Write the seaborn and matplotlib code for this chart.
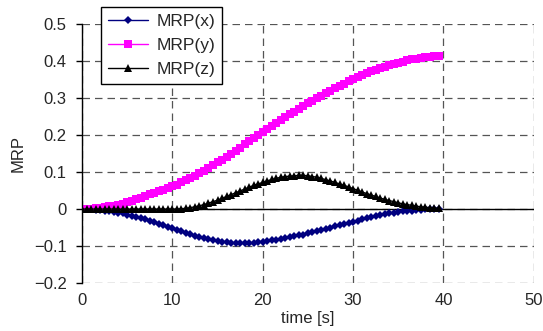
import numpy as np
import pandas as pd
import matplotlib
matplotlib.use("Agg")
import matplotlib.pyplot as plt
import seaborn as sns

# ---- data (0.5 s steps) ----
time_s = np.arange(0, 40, 0.5)

mrp_x = [0.000, 0.000, -0.001, -0.002, -0.003, -0.004, -0.006, -0.008, -0.010, -0.012,
         -0.015, -0.018, -0.021, -0.024, -0.028, -0.032, -0.036, -0.040, -0.044, -0.048,
         -0.052, -0.056, -0.060, -0.064, -0.068, -0.072, -0.075, -0.078, -0.081, -0.084,
         -0.086, -0.088, -0.090, -0.091, -0.092, -0.093, -0.093, -0.093, -0.092, -0.090,
         -0.088, -0.087, -0.085, -0.083, -0.081, -0.079, -0.076, -0.074, -0.071, -0.069,
         -0.066, -0.063, -0.060, -0.057, -0.054, -0.051, -0.047, -0.044, -0.041, -0.037,
         -0.034, -0.031, -0.028, -0.025, -0.022, -0.019, -0.017, -0.014, -0.012, -0.010,
         -0.008, -0.006, -0.005, -0.004, -0.003, -0.002, -0.001, -0.001, 0.000, 0.000]

mrp_y = [0.000, 0.000, 0.001, 0.002, 0.003, 0.005, 0.007, 0.009, 0.012, 0.015,
         0.018, 0.022, 0.027, 0.031, 0.035, 0.040, 0.044, 0.048, 0.052, 0.056,
         0.061, 0.066, 0.072, 0.078, 0.084, 0.090, 0.097, 0.104, 0.111, 0.118,
         0.126, 0.134, 0.142, 0.150, 0.158, 0.166, 0.175, 0.183, 0.192, 0.200,
         0.208, 0.216, 0.224, 0.232, 0.240, 0.248, 0.256, 0.263, 0.271, 0.278,
         0.286, 0.293, 0.300, 0.307, 0.314, 0.320, 0.327, 0.333, 0.339, 0.345,
         0.351, 0.356, 0.362, 0.367, 0.372, 0.376, 0.381, 0.385, 0.389, 0.392,
         0.396, 0.399, 0.402, 0.405, 0.407, 0.409, 0.411, 0.412, 0.413, 0.414]

mrp_z = [0.000, 0.000, 0.000, 0.000, 0.000, 0.000, 0.000, 0.000, 0.000, 0.000,
         0.000, 0.000, 0.000, 0.000, 0.000, 0.000, 0.000, 0.000, 0.000, 0.000,
         0.000, 0.000, 0.001, 0.002, 0.004, 0.006, 0.009, 0.012, 0.016, 0.020,
         0.024, 0.029, 0.034, 0.039, 0.044, 0.049, 0.054, 0.059, 0.064, 0.068,
         0.072, 0.076, 0.080, 0.083, 0.086, 0.088, 0.089, 0.090, 0.091, 0.091,
         0.090, 0.088, 0.086, 0.083, 0.079, 0.076, 0.072, 0.068, 0.064, 0.060,
         0.055, 0.051, 0.046, 0.042, 0.038, 0.034, 0.030, 0.026, 0.023, 0.020,
         0.017, 0.014, 0.012, 0.010, 0.008, 0.006, 0.005, 0.004, 0.003, 0.002]

series_names = ["MRP(x)", "MRP(y)", "MRP(z)"]
series_colors = ["#000080", "#FF00FF", "#000000"]
series_markers = ["D", "s", "^"]
series_sizes = [4.5, 5.5, 6]

x_ticks = [0, 10, 20, 30, 40, 50]
y_ticks = [-0.2, -0.1, 0.0, 0.1, 0.2, 0.3, 0.4, 0.5]
y_labels = ["\u22120.2", "\u22120.1", "0", "0.1", "0.2", "0.3", "0.4", "0.5"]

# ---- plot ----
sns.set_theme(style="white")
plt.rcParams["font.family"] = ["Liberation Sans", "DejaVu Sans"]

fig = plt.figure(figsize=(5.43, 3.31), dpi=100)
ax = fig.add_axes([0.151, 0.145, 0.832, 0.782])

for name, vals, col, mk, ms in zip(series_names, [mrp_x, mrp_y, mrp_z],
                                   series_colors, series_markers, series_sizes):
    df = pd.DataFrame({"time": time_s, "value": vals})
    sns.lineplot(data=df, x="time", y="value", ax=ax, color=col, marker=mk,
                 markersize=ms, markeredgewidth=0, linewidth=1, label=name)

ax.set_xlim(0, 50)
ax.set_ylim(-0.2, 0.5)
ax.set_xticks(x_ticks)
ax.set_yticks(y_ticks)
ax.set_yticklabels(y_labels)

# Excel-like dashed grid, solid zero line
ax.grid(True, which="major", linestyle=(0, (6, 4)), color="#555555", linewidth=0.9)
ax.axhline(0, color="black", linewidth=1, zorder=1.5)
for side in ["top", "right", "bottom"]:
    ax.spines[side].set_visible(False)
ax.spines["left"].set_color("black")
ax.spines["left"].set_linewidth(1)

ax.tick_params(axis="y", left=True, length=4, width=1, color="black",
               labelsize=12, pad=7)
ax.tick_params(axis="x", bottom=False, length=0, labelsize=12, pad=7)

ax.set_xlabel("time [s]", fontsize=12, labelpad=2)
ax.set_ylabel("MRP", fontsize=12, labelpad=6)

leg = ax.legend(loc="upper left", bbox_to_anchor=(0.186, 0.979),
                bbox_transform=fig.transFigure, fontsize=12.5, frameon=True,
                fancybox=False, framealpha=1, edgecolor="black",
                handlelength=2.3, labelspacing=0.5, borderpad=0.4,
                handletextpad=0.5, borderaxespad=0)
leg.get_frame().set_linewidth(1)

fig.savefig("out.png", dpi=100)
